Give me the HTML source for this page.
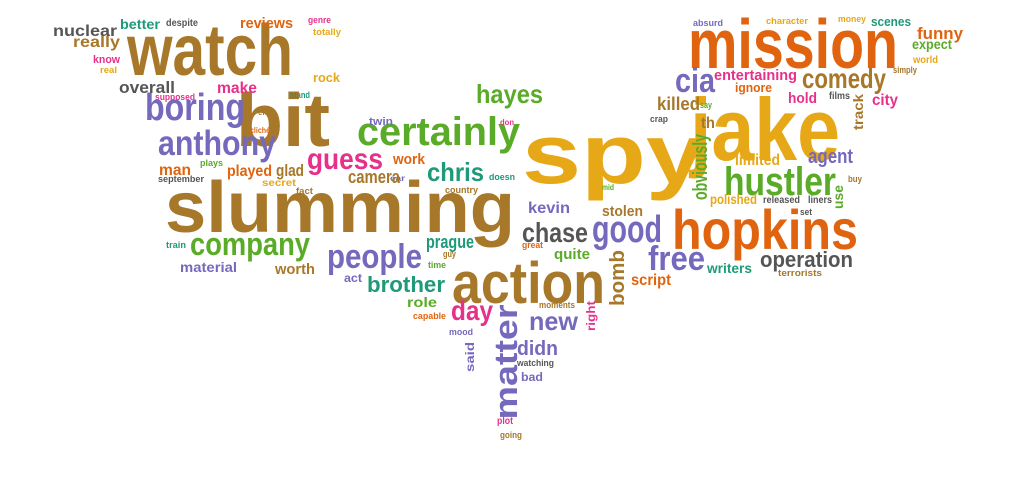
<!DOCTYPE html>
<html><head><meta charset="utf-8"><style>
html,body{margin:0;padding:0;background:#fff;width:1023px;height:504px;overflow:hidden}
svg text{font-family:"Liberation Sans",sans-serif;font-weight:bold}
</style></head><body>
<svg id="cloud" width="1023" height="504" viewBox="0 0 1023 504" xmlns="http://www.w3.org/2000/svg"></svg>
<script>
const C={br:"#a7772a",or:"#e0640f",go:"#e6a817",pu:"#7469bd",gr:"#5aab28",te:"#1e9a78",pi:"#e6308a",gy:"#555555"};
// word, left x, baseline y, font size, width, color key, rotation (0 or -90; for rotated x,y = center)
const words=["watch","bit","slumming","spy","jake","mission","hopkins","action","hustler","certainly","company","people","good","chase","free","operation","boring","anthony","guess","chris","hayes","cia","comedy","entertaining","ignore","killed","hold","films","city","track","obviously","th","say","crap","limited","agent","buy","polished","released","liners","use","set","writers","terrorists","script","bomb","right","moments","new","day","matter","didn","watching","bad","said","plot","going","mood","capable","role","brother","act","worth","material","train","prague","guy","time","great","quite","kevin","stolen","mid","doesn","country","car","camera","work","fact","secret","glad","played","man","plays","september","twin","don","stand","end","cliché","supposed","make","overall","rock","real","know","really","nuclear","better","despite","reviews","genre","totally","absurd","character","money","scenes","funny","expect","world","simply"];
const xs=[127,236,165,522,690,688,672,452,724,357,190,327,592,522,648,760,145,158,307,427,476,675,802,714,735,657,788,829,872,858,700,701,700,650,735,808,848,710,763,808,838,800,707,778,631,617,591,539,529,451,506,517,517,521,470,497,500,449,413,407,367,344,275,180,166,426,443,428,522,554,528,602,602,489,445,390,348,393,296,262,276,227,159,200,158,369,500,290,258,250,155,217,119,313,100,93,73,53,120,166,240,308,313,693,766,838,871,917,912,913,893];
const ys=[75,146,232,183,160,68,249,303,195,145,255,268,242,242,270,267,120,155,169,181,103,92,88,80,92,110,103,99,105,112,167,128,108,122,165,163,182,204,203,203,197,215,273,276,285,278,316,308,330,320,362,355,366,381,357,424,438,335,319,307,292,282,274,272,248,248,257,268,248,259,213,216,190,180,193,181,183,164,194,186,176,176,175,166,182,125,125,98,115,133,100,93,93,82,73,63,47,36,29,26,28,23,35,26,24,22,26,39,49,63,73];
const sizes=[72,75,72,84,88,70,56,58,40,40,32,34,38,28,34,22,38,35,30,26,26,34,28,15,13,18,15,10,16,14,20,16,9,9,16,20,9,14,10,10,14,9,14,9,16,20,12,9,26,28,32,20,9,12,12,10,9,9,9,14,22,12,15,14,9,18,9,9,9,15,16,15,8,9,9,8,18,15,9,10,17,16,16,9,9,11,8,9,9,8,9,16,17,13,9,11,16,16,14,10,15,9,9,9,9,9,13,17,14,10,9];
const widths=[166,94,350,183,150,210,186,153,112,163,120,95,70,66,57,93,100,118,76,57,67,40,84,83,37,43,29,21,26,36,66,14,12,18,45,45,14,47,37,24,24,12,45,44,40,56,30,36,49,42,115,41,37,22,30,16,22,24,33,30,78,18,40,57,20,48,13,18,21,36,42,41,12,26,33,15,52,32,17,34,28,45,32,23,46,24,14,20,14,20,40,40,56,27,17,27,47,64,40,32,53,23,28,30,42,28,40,46,40,25,24];
const colors=["br","br","br","go","go","or","or","br","gr","gr","gr","pu","pu","gy","pu","gy","pu","pu","pi","te","gr","pu","br","pi","or","br","pi","gy","pi","br","gr","br","gr","gy","go","pu","br","go","gy","gy","gr","gy","te","br","or","br","pi","br","pu","pi","pu","pu","gy","pu","pu","pi","br","pu","or","gr","te","pu","br","pu","te","te","br","gr","or","gr","pu","br","gr","te","br","pu","br","or","br","go","br","or","or","gr","gy","pu","pi","te","br","or","pi","pi","gy","go","go","pi","br","gy","te","gy","or","pi","go","pu","go","go","te","or","gr","go","br"];
const rots=[0,0,0,0,0,0,0,0,0,0,0,0,0,0,0,0,0,0,0,0,0,0,0,0,0,0,0,0,0,-90,-90,0,0,0,0,0,0,0,0,0,-90,0,0,0,0,-90,-90,0,0,0,-90,0,0,0,-90,0,0,0,0,0,0,0,0,0,0,0,0,0,0,0,0,0,0,0,0,0,0,0,0,0,0,0,0,0,0,0,0,0,0,0,0,0,0,0,0,0,0,0,0,0,0,0,0,0,0,0,0,0,0,0,0];
const svg=document.getElementById('cloud');
const NS="http://www.w3.org/2000/svg";
for(let i=0;i<words.length;i++){
  const t=document.createElementNS(NS,'text');
  t.textContent=words[i];
  
  
  t.setAttribute('font-size',sizes[i]);
  t.setAttribute('fill',C[colors[i]]);
  t.setAttribute('textLength',widths[i]);
  t.setAttribute('lengthAdjust','spacingAndGlyphs');
  if(rots[i]){
    t.setAttribute('text-anchor','middle');
    t.setAttribute('x',xs[i]);
    t.setAttribute('y',ys[i]+sizes[i]*0.35);
    t.setAttribute('transform','rotate(-90 '+xs[i]+' '+ys[i]+')');
  }else{
    t.setAttribute('x',xs[i]);
    t.setAttribute('y',ys[i]);
  }
  svg.appendChild(t);
}
</script>
</body></html>
